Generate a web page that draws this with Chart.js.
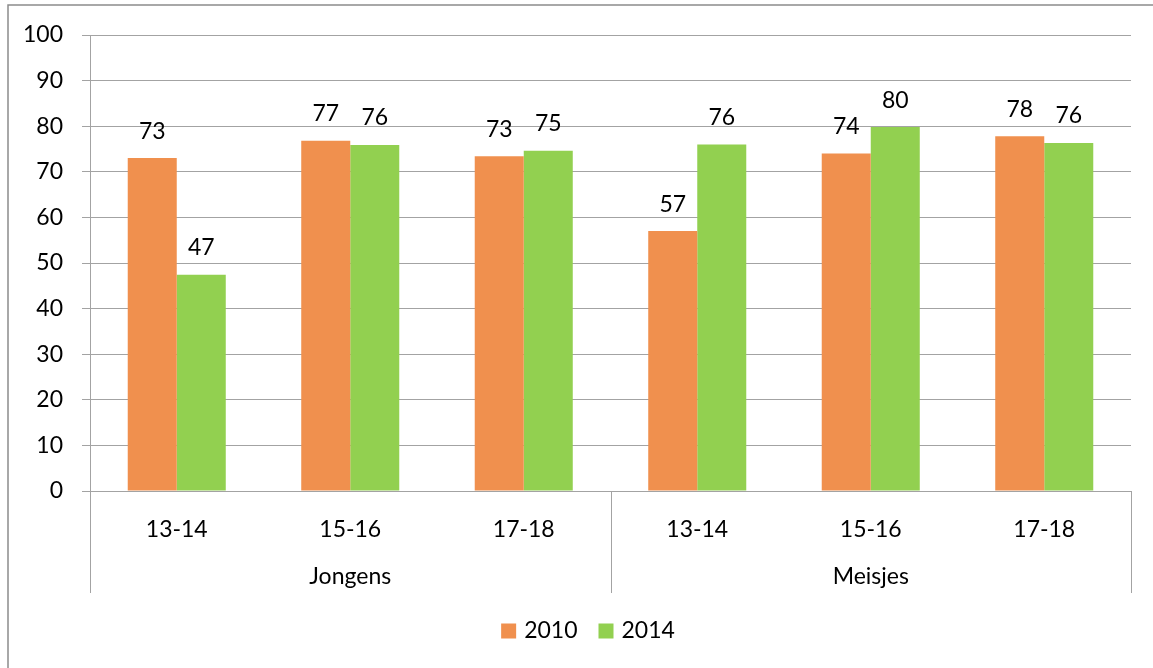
<!DOCTYPE html>
<html>
<head>
<meta charset="utf-8">
<script src="https://cdn.jsdelivr.net/npm/chart.js@4/dist/chart.umd.min.js"></script>
<style>
  html, body { margin: 0; padding: 0; background: #fff; }
  #wrap { width: 1153px; height: 668px; position: relative; }
</style>
</head>
<body>
<div id="wrap"><canvas id="chart"></canvas></div>
<script>
const ageGroups = ["13-14", "15-16", "17-18", "13-14", "15-16", "17-18"];
const genders = ["Jongens", "Meisjes"];
const values2010 = [73.0, 76.8, 73.4, 57.0, 74.0, 77.8];
const values2014 = [47.4, 75.9, 74.6, 76.0, 79.8, 76.3];
const seriesNames = ["2010", "2014"];
const seriesColors = ["#f0904e", "#92d050"];
const yTicks = [0, 10, 20, 30, 40, 50, 60, 70, 80, 90, 100];

const FONT = "Lato, 'Open Sans', sans-serif";
const FSIZE = 23;
const GRID = "#a3a3a3";

// frame, value labels, second row of the category axis and the legend
const excelBits = {
  id: "excelBits",
  beforeDraw(chart) {
    const ctx = chart.ctx;
    ctx.save();
    ctx.strokeStyle = "#8c8c8c";
    ctx.lineWidth = 1.5;
    ctx.beginPath();
    ctx.moveTo(8, 668);
    ctx.lineTo(8, 5);
    ctx.lineTo(1153, 5);
    ctx.stroke();
    ctx.restore();
  },
  afterDatasetsDraw(chart) {
    const ctx = chart.ctx;
    ctx.save();
    ctx.fillStyle = "#000";
    ctx.font = FSIZE + "px " + FONT;
    ctx.textAlign = "center";
    ctx.textBaseline = "middle";
    chart.data.datasets.forEach((ds, i) => {
      chart.getDatasetMeta(i).data.forEach((bar, j) => {
        ctx.fillText(Math.round(ds.data[j]).toString(), bar.x, bar.y - 27);
      });
    });
    ctx.restore();
  },
  afterDraw(chart) {
    const ctx = chart.ctx;
    const x = chart.scales.x;
    const per = ageGroups.length / genders.length;
    ctx.save();
    ctx.strokeStyle = GRID;
    ctx.lineWidth = 1;
    for (let g = 0; g <= genders.length; g++) {
      const px = Math.round(x.getPixelForValue(g * per - 0.5)) + 0.5;
      ctx.beginPath();
      ctx.moveTo(px, x.top);
      ctx.lineTo(px, x.bottom);
      ctx.stroke();
    }
    ctx.fillStyle = "#000";
    ctx.font = FSIZE + "px " + FONT;
    ctx.textAlign = "center";
    ctx.textBaseline = "middle";
    genders.forEach((name, g) => {
      const left = x.getPixelForValue(g * per - 0.5);
      const right = x.getPixelForValue((g + 1) * per - 0.5);
      ctx.fillText(name, (left + right) / 2, x.top + 86);
    });

    // legend, centred a bit right of the plot centre like the original
    const box = 15, gap = 8, spacing = 21;
    const widths = seriesNames.map((n) => ctx.measureText(n).width);
    const total = widths.reduce((s, w) => s + box + gap + w, 0) + spacing * (seriesNames.length - 1);
    let lx = 588 - total / 2;
    const ly = x.bottom + 38;
    ctx.textAlign = "left";
    seriesNames.forEach((n, i) => {
      ctx.fillStyle = seriesColors[i];
      ctx.fillRect(lx, ly - box / 2, box, box);
      ctx.fillStyle = "#000";
      ctx.fillText(n, lx + box + gap, ly);
      lx += box + gap + widths[i] + spacing;
    });
    ctx.restore();
  },
};

new Chart(document.getElementById("chart"), {
  type: "bar",
  data: {
    labels: ageGroups,
    datasets: [
      { label: seriesNames[0], data: values2010, backgroundColor: seriesColors[0] },
      { label: seriesNames[1], data: values2014, backgroundColor: seriesColors[1] },
    ],
  },
  options: {
    responsive: true,
    maintainAspectRatio: false,
    animation: false,
    layout: { padding: { top: 35, left: 8, right: 22, bottom: 75 } },
    datasets: { bar: { categoryPercentage: 0.565, barPercentage: 1 } },
    plugins: {
      tooltip: { enabled: false },
      legend: { display: false },
    },
    scales: {
      x: {
        grid: { display: false },
        border: { display: true, color: GRID, width: 1 },
        ticks: { color: "#000", font: { family: FONT, size: FSIZE }, padding: 17, maxRotation: 0 },
        afterFit(scale) { scale.height = 102; },
      },
      y: {
        min: 0,
        max: 100,
        afterBuildTicks(scale) { scale.ticks = yTicks.map((v) => ({ value: v })); },
        grid: { color: GRID, lineWidth: 1, tickLength: 8, drawTicks: true },
        border: { display: true, color: GRID, width: 1 },
        ticks: { color: "#000", font: { family: FONT, size: FSIZE }, padding: 19 },
        afterFit(scale) { scale.width = 82; },
      },
    },
  },
  plugins: [excelBits],
});
</script>
</body>
</html>
